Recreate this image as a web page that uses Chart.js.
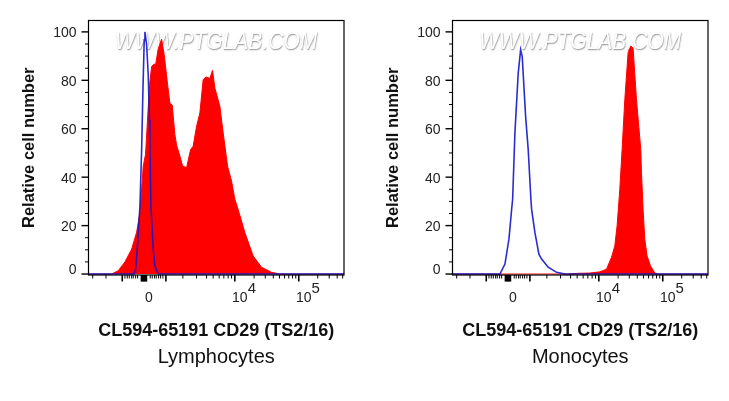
<!DOCTYPE html>
<html>
<head>
<meta charset="utf-8">
<script src="https://cdn.jsdelivr.net/npm/chart.js@4"></script>
<style>
  html, body { margin: 0; padding: 0; background: #fff; overflow: hidden; }
  canvas { position: absolute; top: 0; }
</style>
</head>
<body>
<canvas id="lymphoChart" width="365" height="401" style="left:0"></canvas>
<canvas id="monoChart" width="365" height="401" style="left:364px"></canvas>
<script>
// x values are histogram channels (0-256), y values are % of the peak

// =============== DATA ===============
const lymphoRedX = [0, 23.2, 29.8, 36.5, 43.2, 48.2, 51.5, 53.2, 54.8, 57.1, 59.8, 61.5, 63.2, 65.8, 67.2, 69.8, 73.2, 75.8, 79.2, 81.5, 83.8, 86.5, 88.2, 91.5, 94.2, 98.2, 102.2, 104.8, 108.2, 111.5, 114.8, 117.5, 121.5, 124.2, 126.5, 131.5, 134.8, 139.2, 143.2, 146.5, 149.8, 156.5, 164.8, 173.2, 183.2, 191.5, 255.8];
const lymphoRedY = [0, 0, 1.4, 5, 10.3, 17.3, 25.5, 35, 44.6, 49.4, 68.9, 79.5, 85.7, 86.7, 86.4, 93, 97, 90.5, 78.2, 70.5, 69.8, 57.6, 53.2, 48.7, 44.6, 43.9, 51.4, 52.8, 61, 66.5, 80.2, 81.4, 80.8, 84.1, 76.8, 69.3, 58.3, 44.6, 38.4, 30.9, 26.7, 17.2, 7.5, 2.8, 0.7, 0, 0];
const lymphoBlueX = [0, 45.5, 47.2, 48.8, 51.5, 53.2, 54.5, 55.8, 56.5, 58.2, 59.8, 61, 61.5, 62.5, 64.8, 66.5, 69.8, 255.8];
const lymphoBlueY = [0, 0, 2.1, 10.3, 28, 51.4, 76.1, 96.7, 100, 94.7, 82.3, 63.8, 51.4, 28, 10.3, 3.3, 0, 0];

const monoRedX = [0, 115.8, 125.8, 137.5, 147.5, 154.2, 159.2, 162.5, 164.8, 167.5, 169.8, 172.5, 175.8, 178.5, 180.8, 184.2, 188.5, 189.2, 190.8, 192.5, 194.8, 198.2, 202.5, 205.8, 255.8];
const monoRedY = [0, 0, 0.3, 0.4, 0.9, 2, 6.9, 11.6, 19.9, 35, 51.4, 72, 91.4, 94.2, 93.3, 72, 51.4, 42, 26.7, 14.4, 7.5, 3.4, 0.4, 0, 0];
const monoBlueX = [0, 47.5, 52.5, 56.5, 59.2, 60.2, 62.5, 65.8, 68.2, 69.8, 73.2, 75.8, 78.5, 79.2, 82.5, 86.5, 89.2, 95.8, 104.2, 112.5, 255.8];
const monoBlueY = [0, 0, 4.1, 14.4, 26.7, 30.9, 58.4, 83, 92.6, 89.8, 65.1, 51.4, 30.9, 26.7, 17.2, 8.2, 6.2, 2.8, 0.7, 0, 0];

const yMajorTicks = [0, 20, 40, 60, 80, 100];
const yMinorTicks = [5, 10, 15, 25, 30, 35, 45, 50, 55, 65, 70, 75, 85, 90, 95];
const xLabelTicks = [55.5, 146.5, 210.5];
const xLabels = ['0', '10', '10'];
const xExponents = ['', '4', '5'];
const xMajorTicks = [33.8, 53, 54, 55, 56, 57, 58, 77.5, 146.5, 210.5];
const xMinorTicks = [4.2, 17.5, 36.5, 38.8, 40.8, 43.2, 44.8, 47.2, 49.2, 61.8, 63.8, 66.2, 67.8, 70.2, 72.2, 74.5, 94.5, 108.2, 118.2, 124.8, 130.8, 135.5, 139.8, 143.2, 165.8, 177, 185, 191.2, 196.3, 200.5, 204.3, 207.5, 229.5, 241, 249, 254.5];

const AXIS_TITLE = 'CL594-65191 CD29 (TS2/16)';
const Y_TITLE = 'Relative cell number';
const WATERMARK = 'WWW.PTGLAB.COM';
const FONT = '"Liberation Sans", Arial, sans-serif';
// ====================================

function toPoints(xs, ys) {
  return xs.map((x, i) => ({ x: x, y: ys[i] }));
}

// Frame, tick marks, exponents and the watermark are not native to the scales
const flowDecor = {
  id: 'flowDecor',
  beforeDatasetsDraw(chart) {
    const a = chart.chartArea, ctx = chart.ctx;
    ctx.save();
    ctx.translate(a.left + 26.5, 49);
    ctx.scale(1, 1.1);
    ctx.font = 'italic 21px ' + FONT;
    ctx.fillStyle = '#fff';
    ctx.shadowColor = '#8a8a8a';
    ctx.shadowBlur = 1.5;
    ctx.shadowOffsetX = 0.5;
    ctx.shadowOffsetY = 0.5;
    ctx.fillText(WATERMARK, 0, 0);
    ctx.restore();
  },
  afterDraw(chart) {
    const a = chart.chartArea, ctx = chart.ctx;
    const xs = chart.scales.x, ys = chart.scales.y;
    ctx.save();
    ctx.strokeStyle = '#000';
    ctx.lineWidth = 1.2;
    ctx.strokeRect(a.left, a.top, a.right - a.left, a.bottom - a.top);

    const yTick = (v, len, w) => {
      const p = ys.getPixelForValue(v);
      ctx.lineWidth = w;
      ctx.beginPath(); ctx.moveTo(a.left, p); ctx.lineTo(a.left - len, p); ctx.stroke();
    };
    const xTick = (v, len, w) => {
      const p = xs.getPixelForValue(v);
      ctx.lineWidth = w;
      ctx.beginPath(); ctx.moveTo(p, a.bottom); ctx.lineTo(p, a.bottom + len); ctx.stroke();
    };
    yMajorTicks.forEach(v => yTick(v, 7, 1.4));
    yMinorTicks.forEach(v => yTick(v, 3.5, 1));
    xMajorTicks.forEach(v => xTick(v, 6.5, 1.6));
    xMinorTicks.forEach(v => xTick(v, 3.5, 1));

    // --- exponents next to the 10 labels ---
    ctx.fillStyle = '#222';
    ctx.font = '15px ' + FONT;
    ctx.textAlign = 'center';
    ctx.textBaseline = 'middle';
    xExponents.forEach((e, i) => {
      if (e) ctx.fillText(e, xs.getPixelForValue(xLabelTicks[i]) + 17, a.bottom + 14);
    });
    ctx.restore();
  }
};

function buildChart(canvasId, title, redX, redY, blueX, blueY) {
  const ctx = document.getElementById(canvasId).getContext('2d');
  return new Chart(ctx, {
    type: 'line',
    data: {
      // first dataset is painted last, so the blue outline goes first
      datasets: [{
        data: toPoints(blueX, blueY),
        borderColor: 'rgba(20, 20, 205, 0.9)',
        borderWidth: 1.6,
        fill: false,
        pointRadius: 0,
        tension: 0
      }, {
        data: toPoints(redX, redY),
        borderColor: '#ff0000',
        backgroundColor: '#ff0000',
        borderWidth: 1,
        fill: 'origin',
        pointRadius: 0,
        tension: 0
      }]
    },
    plugins: [flowDecor],
    options: {
      responsive: false,
      animation: false,
      layout: { padding: { top: 20.5, right: 21, left: 0, bottom: 0 } },
      scales: {
        x: {
          type: 'linear',
          min: 0,
          max: 255.8,
          afterFit: s => { s.height = 70; },
          afterBuildTicks: s => { s.ticks = xLabelTicks.map(v => ({ value: v })); },
          grid: { display: false, drawTicks: false },
          border: { display: false },
          title: {
            display: true,
            text: AXIS_TITLE,
            color: '#111',
            font: { family: FONT, size: 18, weight: 'bold' },
            padding: { top: 0, bottom: 3 }
          },
          ticks: {
            autoSkip: false,
            maxRotation: 0,
            padding: 15,
            labelOffset: 5,
            color: '#222',
            font: { family: FONT, size: 14 },
            callback: v => xLabels[xLabelTicks.indexOf(v)]
          }
        },
        y: {
          type: 'linear',
          min: -0.4,
          max: 104.7,
          afterFit: s => { s.width = 88.5; },
          afterBuildTicks: s => { s.ticks = yMajorTicks.map(v => ({ value: v })); },
          grid: { display: false, drawTicks: false },
          border: { display: false },
          title: {
            display: true,
            text: Y_TITLE,
            color: '#111',
            font: { family: FONT, size: 16.5, weight: 'bold' },
            padding: { top: 20, bottom: 0 }
          },
          ticks: {
            autoSkip: false,
            padding: 12,
            labelOffset: 1.5,
            color: '#222',
            font: { family: FONT, size: 14, lineHeight: 0.75 },
            // the 0 label sits a little above its tick in the original
            callback: v => (v === 0 ? ['0', ''] : String(v))
          }
        }
      },
      plugins: {
        legend: { display: false },
        tooltip: { enabled: false },
        title: {
          display: true,
          text: title,
          position: 'bottom',
          fullSize: false,
          color: '#111',
          font: { family: FONT, size: 20, weight: 'normal' },
          padding: { top: 0, bottom: 32 }
        }
      }
    }
  });
}

document.fonts.ready.then(() => {
  buildChart('lymphoChart', 'Lymphocytes', lymphoRedX, lymphoRedY, lymphoBlueX, lymphoBlueY);
  buildChart('monoChart', 'Monocytes', monoRedX, monoRedY, monoBlueX, monoBlueY);
});
</script>
</body>
</html>
